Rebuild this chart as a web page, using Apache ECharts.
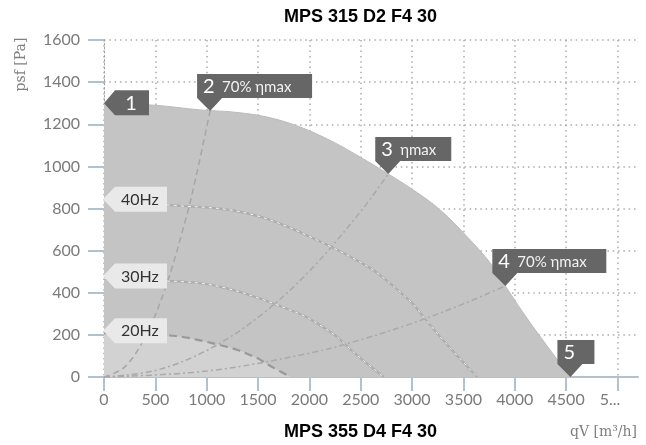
<!DOCTYPE html>
<html><head><meta charset="utf-8">
<script src="https://cdn.jsdelivr.net/npm/echarts@6/dist/echarts.min.js"></script>
<style>html,body{margin:0;padding:0;background:#fff}#c{width:646px;height:445px}</style>
</head><body><div id="c"></div>
<script>
// ---- text ----
const titleTop = 'MPS 315 D2 F4 30';
const titleBottom = 'MPS 355 D4 F4 30';
const xName = 'qV [m³/h]';
const yName = 'psf [Pa]';
// ---- ticks ----
const xTicks = [0, 500, 1000, 1500, 2000, 2500, 3000, 3500, 4000, 4500, 5000];
const yTicks = [0, 200, 400, 600, 800, 1000, 1200, 1400, 1600];
// ---- fan curve at 50 Hz (max) ----
const flow50 = [0, 500, 936, 1257, 1589, 1910, 2232, 2495, 2768, 3012, 3275, 3538, 3762, 3908, 4152, 4542];
const press50 = [1300, 1290, 1268, 1258, 1234, 1187, 1116, 1044, 964, 888, 793, 665, 541, 432, 256, 0];
// ---- 40 Hz ----
const flow40 = [0, 400, 749, 1006, 1271, 1528, 1786, 1996, 2214, 2410, 2620, 2830, 3010, 3126, 3322, 3634];
const press40 = [832, 826, 812, 805, 790, 760, 714, 668, 617, 568, 508, 426, 346, 276, 164, 0];
// ---- 30 Hz ----
const flow30 = [0, 300, 562, 754, 953, 1146, 1339, 1497, 1661, 1807, 1965, 2123, 2257, 2345, 2491, 2725];
const press30 = [468, 464, 456, 453, 444, 427, 402, 376, 347, 319, 286, 240, 195, 156, 92, 0];
// ---- 20 Hz ----
const flow20 = [0, 200, 374, 503, 636, 764, 893, 998, 1107, 1205, 1310, 1415, 1505, 1563, 1661, 1817];
const press20 = [208, 206, 203, 201, 197, 190, 179, 167, 154, 142, 127, 106, 87, 69, 41, 0];
// ---- system curves ----
const sys70LeftFlow = [0, 200, 400, 600, 800, 900, 1033];
const sys70LeftPress = [0, 47, 189, 426, 757, 959, 1263];
const sysMaxFlow = [0, 500, 1000, 1500, 2000, 2500, 2768];
const sysMaxPress = [0, 31, 126, 283, 503, 786, 964];
const sys70RightFlow = [0, 1000, 2000, 2500, 3000, 3500, 3908];
const sys70RightPress = [0, 28, 113, 177, 255, 347, 432];
// ---- operating points ----
const pointFlow = [0, 1033, 2768, 3908, 4542];
const pointPress = [1300, 1263, 964, 432, 0];
const pointNum = ['1', '2', '3', '4', '5'];
const pointText = ['', '70% ηmax', 'ηmax', '70% ηmax', ''];
// ---- speed labels ----
const hzNames = ['40Hz', '30Hz', '20Hz'];
const hzPress = [832, 468, 208];

// ---- styling (not data) ----
const calloutWidth = [34, 115, 76, 114, 37];
const zip = (a, b) => a.map((v, i) => [v, b[i]]);
const LABEL_FONT = 'Lato, "Open Sans", sans-serif';
const GRID_COLOR = '#ababab';
const TICK_COLOR = '#b3c1cf';

const chart = echarts.init(document.getElementById('c'), null, {renderer: 'canvas'});

function calloutItem(params, api) {
  const i = api.value(2);
  const p = api.coord([api.value(0), api.value(1)]);
  const px = p[0], py = p[1];
  const W = calloutWidth[i];
  if (i === 0) {
    const L = px + 11, T = py - 13, B = py + 12;
    return {type: 'group', children: [
      {type: 'polygon', shape: {points: [[px, py], [L, T], [L + W, T], [L + W, B], [L, B]]}, style: {fill: '#666666'}},
      {type: 'text', style: {text: pointNum[i], x: L + W / 2 - 1, y: (T + B) / 2 + 1, align: 'center', verticalAlign: 'middle', font: '20px ' + LABEL_FONT, fill: '#ffffff'}}
    ]};
  }
  const L = px - 13, B = py - 13, T = B - 24;
  const children = [
    {type: 'polygon', shape: {points: [[L, T], [L + W, T], [L + W, B], [L + 25, B], [px, py], [L, B]]}, style: {fill: '#666666'}},
    {type: 'text', style: {text: pointNum[i], x: L + 6, y: (T + B) / 2 + 1, align: 'left', verticalAlign: 'middle', font: '20px ' + LABEL_FONT, fill: '#ffffff'}}
  ];
  if (pointText[i]) {
    children.push({type: 'text', style: {text: pointText[i], x: L + 25, y: (T + B) / 2 + 1, align: 'left', verticalAlign: 'middle', font: '15px ' + LABEL_FONT, fill: '#f2f2f2'}});
  }
  return {type: 'group', children};
}

function hzItem(params, api) {
  const i = api.value(2);
  const p = api.coord([api.value(0), api.value(1)]);
  const px = p[0] - 1, py = p[1] - 2.5;
  const L = px + 12, W = 52, T = py - 12.5, B = py + 12.5;
  return {type: 'group', children: [
    {type: 'polygon', shape: {points: [[px, py], [L, T], [L + W, T], [L + W, B], [L, B]]}, style: {fill: '#e9e9e9'}},
    {type: 'text', style: {text: hzNames[i], x: L + 6, y: py + 0.5, align: 'left', verticalAlign: 'middle', font: '16px ' + LABEL_FONT, fill: '#333333'}}
  ]};
}

const lineBase = {type: 'line', showSymbol: false, symbol: 'none', smooth: 0.35, silent: true, animation: false};

const option = {
  animation: false,
  grid: {left: 104, right: 8, top: 40, bottom: 68, containLabel: false},
  xAxis: {
    type: 'value', min: 0, max: 5200, interval: 500,
    axisLine: {show: true, lineStyle: {color: TICK_COLOR, width: 2}},
    axisTick: {show: true, length: 14, customValues: xTicks, lineStyle: {color: TICK_COLOR, width: 2}},
    axisLabel: {customValues: xTicks, margin: 15, color: '#7a7a7a', fontFamily: LABEL_FONT, fontSize: 16,
      formatter: v => (v === 5000 ? '{t|5...}' : String(v)),
      rich: {t: {fontFamily: LABEL_FONT, fontSize: 16, color: '#7a7a7a', padding: [0, 15, 0, 0]}}},
    splitLine: {show: true, lineStyle: {color: GRID_COLOR, width: 1.5, type: [1.5, 3.8]}}
  },
  yAxis: {
    type: 'value', min: 0, max: 1600, interval: 200,
    axisLine: {show: true, lineStyle: {color: '#a0a0a0', width: 1, type: [1.5, 2.5]}},
    axisTick: {show: true, length: 16, customValues: yTicks, lineStyle: {color: TICK_COLOR, width: 2}},
    axisLabel: {customValues: yTicks, margin: 24, color: '#7a7a7a', fontFamily: LABEL_FONT, fontSize: 16,
      formatter: v => String(v)},
    splitLine: {show: true, lineStyle: {color: GRID_COLOR, width: 1.5, type: [1.5, 3.8]}}
  },
  graphic: [
    {type: 'text', x: 360.5, y: 16.7, style: {text: titleTop, align: 'center', verticalAlign: 'middle', font: 'bold 18px "Liberation Sans", Arial, sans-serif', fill: '#000'}},
    {type: 'text', x: 360.5, y: 432, style: {text: titleBottom, align: 'center', verticalAlign: 'middle', font: 'bold 18px "Liberation Sans", Arial, sans-serif', fill: '#000'}},
    {type: 'text', x: 603.5, y: 432, style: {text: xName, align: 'center', verticalAlign: 'middle', font: '14px "DejaVu Serif", serif', fill: '#808080'}},
    {type: 'text', x: 21.5, y: 64.5, rotation: Math.PI / 2, style: {text: yName, align: 'center', verticalAlign: 'middle', font: '14px "DejaVu Serif", serif', fill: '#808080'}}
  ],
  series: [
    Object.assign({}, lineBase, {name: '50Hz', data: zip(flow50, press50), z: 2,
      lineStyle: {color: '#bcbcbc', width: 1}, areaStyle: {color: '#c4c4c4', opacity: 1}}),
    Object.assign({}, lineBase, {name: '20Hz area', data: zip(flow20, press20), z: 3,
      lineStyle: {width: 0}, areaStyle: {color: '#d2d2d2', opacity: 1}}),
    Object.assign({}, lineBase, {name: '70% left', data: zip(sys70LeftFlow, sys70LeftPress), z: 4,
      lineStyle: {color: '#a6a6a6', width: 1.5, type: [6, 4]}}),
    Object.assign({}, lineBase, {name: 'ηmax', data: zip(sysMaxFlow, sysMaxPress), z: 4,
      lineStyle: {color: '#a9a9a9', width: 1.5, type: [6, 3, 2, 3]}}),
    Object.assign({}, lineBase, {name: '70% right', data: zip(sys70RightFlow, sys70RightPress), z: 4,
      lineStyle: {color: '#a9a9a9', width: 1.5, type: [6, 3, 2, 3]}}),
    Object.assign({}, lineBase, {name: '40Hz', data: zip(flow40, press40), z: 5,
      lineStyle: {color: '#adadad', width: 2.2}}),
    Object.assign({}, lineBase, {name: '40Hz hl', data: zip(flow40, press40), z: 6,
      lineStyle: {color: '#f4f4f4', width: 1, type: [3, 4]}}),
    Object.assign({}, lineBase, {name: '30Hz', data: zip(flow30, press30), z: 5,
      lineStyle: {color: '#adadad', width: 2.2}}),
    Object.assign({}, lineBase, {name: '30Hz hl', data: zip(flow30, press30), z: 6,
      lineStyle: {color: '#f4f4f4', width: 1, type: [3, 4]}}),
    Object.assign({}, lineBase, {name: '20Hz', data: zip(flow20, press20), z: 6,
      lineStyle: {color: '#999999', width: 2.2, type: [8, 5]}}),
    {type: 'custom', name: 'hz labels', z: 8, clip: false, silent: true,
      data: hzNames.map((n, i) => [0, hzPress[i], i]), renderItem: hzItem},
    {type: 'custom', name: 'points', z: 9, clip: false, silent: true,
      data: pointFlow.map((f, i) => [f, pointPress[i], i]), renderItem: calloutItem}
  ]
};
chart.setOption(option);
</script></body></html>
